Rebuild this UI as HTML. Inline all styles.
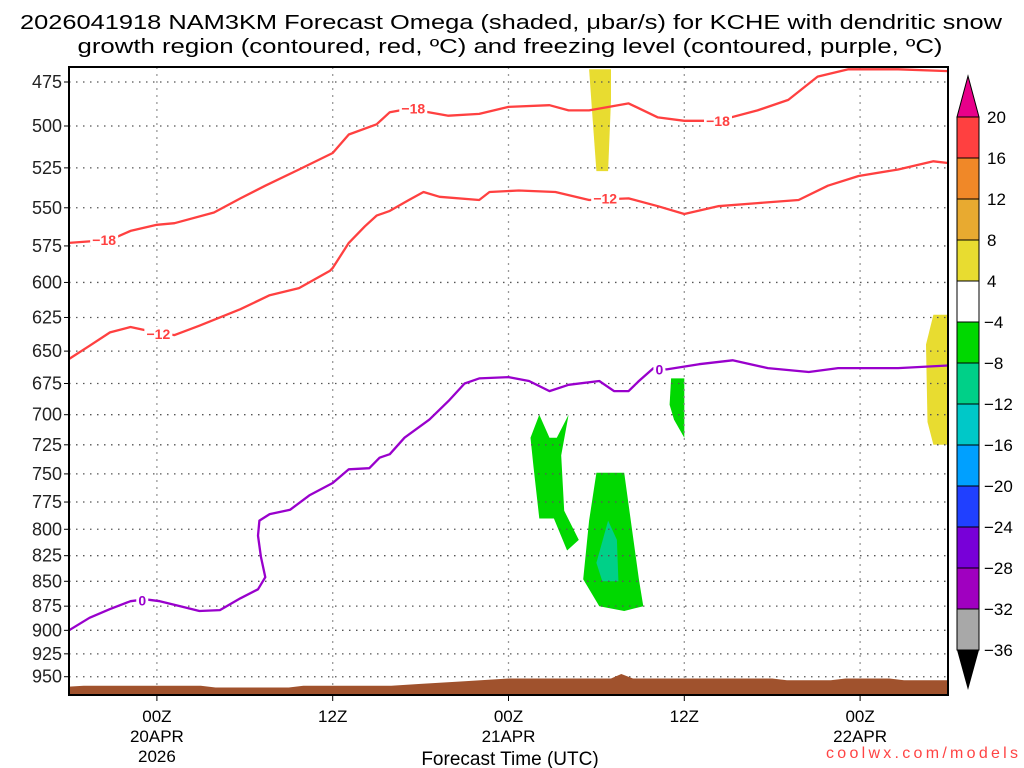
<!DOCTYPE html>
<html><head><meta charset="utf-8"><style>
html,body{margin:0;padding:0;background:#fff}
svg{display:block;font-family:"Liberation Sans",sans-serif}
</style></head><body>
<svg id="c" width="1024" height="768" viewBox="0 0 1024 768" xmlns="http://www.w3.org/2000/svg">
<text x="511" y="29" text-anchor="middle" font-size="20" textLength="982" lengthAdjust="spacingAndGlyphs">2026041918 NAM3KM Forecast Omega (shaded, μbar/s) for KCHE with dendritic snow</text>
<text x="510" y="53" text-anchor="middle" font-size="20" textLength="865" lengthAdjust="spacingAndGlyphs">growth region (contoured, red, ºC) and freezing level (contoured, purple, ºC)</text>
<text x="510" y="765" text-anchor="middle" font-size="19">Forecast Time (UTC)</text>
<text x="1018" y="758" text-anchor="end" font-size="16" fill="#ff4444" textLength="192" lengthAdjust="spacing">coolwx.com/models</text>
<g id="plot"></g>
</svg>
<script>
// ---- data (hours from 00Z 20APR, pressure hPa) ----
const yTicks=[475,500,525,550,575,600,625,650,675,700,725,750,775,800,825,850,875,900,925,950];
const xTickHours=[0,12,24,36,48];
const xTickLabels=[["00Z","20APR","2026"],["12Z"],["00Z","21APR"],["12Z"],["00Z","22APR"]];
const redUpperH=[-6,-3.2,-1.8,0,1.2,3.9,5.7,7.4,9.7,12,13.1,15,15.9,17.2,19.9,22,24,26.8,28.1,29.5,32.2,34.2,36,38.3,41,43.1,45.1,47.2,50.6,54];
const redUpperP=[573,571,565,561,560,553,544,536,526,516,505,499,492,490,494,493,489,488,491,491,487,495,497,497,491,485,472,468,468,469];
const redLowerH=[-6,-4.6,-3.2,-1.8,-0.5,1.2,2.9,5.7,7.7,9.7,11.8,12,13.1,14.2,15,15.9,17.2,18.2,19.3,22,22.7,24.7,27.2,29.5,32.2,34.2,36,38.3,41,43.8,45.8,47.9,50.6,53,54];
const redLowerP=[656,646,636,632,635,638,631,619,609,604,592,590,573,562,555,552,545,540,543,545,540,539,540,545,544,549,554,549,547,545,536,530,526,521,522];
const frzH=[-6,-4.6,-3.2,-1.8,-0.8,0.2,1.6,2.9,4.3,5.7,6.9,7.4,7.1,6.9,7.0,7.7,9.1,10.4,12,13.1,14.5,15.2,15.9,16.9,18.6,19.9,21,22,24,25.4,26.8,28.1,30.2,31.2,32.2,32.9,33.9,34.8,37,39.3,41.7,44.5,46.5,50.6,54];
const frzP=[900,887,878,870,868,870,875,880,879,867,858,846,826,806,792,786,782,769,758,746,745,736,733,719,704,689,675,671,670,673,681,676,673,681,681,673,663,664,660,657,663,666,663,663,661];
const terrH=[-6,-5,3,4,9,10,16,18,21,24,31,31.7,32.5,42,43,46,47,50,51,54];
const terrP=[961,960,960,962,962,960,960,958,955,952,952,947,952,952,954,954,952,952,954,954];
const yellowTopH=[29.5,31,31,30.8,30,29.7];
const yellowTopP=[468,468,485,527,527,491];
const yellowRightH=[53,54,54,53,52.6,52.5];
const yellowRightP=[623,623,725,725,706,645];
const green1H=[26.1,26.8,27.3,28.1,27.6,27.8,28.8,28,27.1,26.1,25.7,25.5];
const green1P=[700,719,719,700,734,783,810,820,790,790,743,719];
const green2H=[30,31.9,32.9,33.2,31.9,30.2,29.1,29.5];
const green2P=[749,749,848,875,880,875,848,792];
const tealH=[30.8,31.4,31.5,30.4,30];
const tealP=[792,810,850,850,832];
const green3H=[35.1,36,36,35.3,35];
const green3P=[671,671,719,704,692];
const cbLabels=["20","16","12","8","4","\u22124","\u22128","\u221212","\u221216","\u221220","\u221224","\u221228","\u221232","\u221236"];
const cbColors=["#ff4040","#f08828","#e8aa30","#e8dc30","#ffffff","#00d800","#00d088","#00c8c8","#00a0ff","#2040ff","#7800d8","#a000c0","#a8a8a8"];
// ---- axes ----
const X0=69,X1=948,Y0=67,Y1=695,H0=-6,H1=54;
const xs=h=>X0+(h-H0)*(X1-X0)/(H1-H0);
const ys=p=>82+858*Math.log(p/475);
const NS="http://www.w3.org/2000/svg";
const g=document.getElementById('plot');
function mk(t,a,parent){const e=document.createElementNS(NS,t);for(const k in a)e.setAttribute(k,a[k]);(parent||g).appendChild(e);return e;}
function pts(H,P){return H.map((h,i)=>xs(h).toFixed(1)+","+ys(P[i]).toFixed(1)).join(" ");}
const defs=mk('defs',{});const cp=mk('clipPath',{id:'pc'},defs);mk('rect',{x:X0,y:Y0,width:X1-X0,height:Y1-Y0},cp);
const pg=mk('g',{'clip-path':'url(#pc)'});


[[yellowTopH,yellowTopP,'#e8dc30','omega-yellow-top'],[yellowRightH,yellowRightP,'#e8dc30','omega-yellow-right'],[green1H,green1P,'#00d800','omega-green-1'],[green2H,green2P,'#00d800','omega-green-2'],[tealH,tealP,'#00d088','omega-teal'],[green3H,green3P,'#00d800','omega-green-3']].forEach(s=>{
 const e=mk('polygon',{points:pts(s[0],s[1]),fill:s[2]},pg);
 
 
});
yTicks.forEach(p=>{
 const l=mk('line',{x1:X0,x2:X1,y1:ys(p),y2:ys(p),stroke:'#555','stroke-dasharray':'1.5,5.5','stroke-width':1.3},pg);
 
 
 const t=mk('text',{x:62,y:ys(p)+6,'text-anchor':'end','font-size':18,fill:'#222'});
 t.textContent=p;
 
 
 mk('line',{x1:X0-5,x2:X0,y1:ys(p),y2:ys(p),stroke:'#000'});
});
xTickHours.forEach((h,i)=>{
 const l=mk('line',{x1:xs(h),x2:xs(h),y1:Y0,y2:Y1,stroke:'#999','stroke-dasharray':'2,5','stroke-width':1.3},pg);
 
 
 mk('line',{x1:xs(h),x2:xs(h),y1:Y1,y2:Y1+6,stroke:'#000'});
 xTickLabels[i].forEach((s,j)=>{
  const t=mk('text',{x:xs(h),y:722+j*20,'text-anchor':'middle','font-size':17});
  t.textContent=s;
  
  
 });
});
const tH=[H0].concat(terrH,[H1]),tP=[1000].concat(terrP,[1000]);
const terr=mk('polygon',{points:pts(tH,tP),fill:'#a0522d'},pg);


[[redUpperH,redUpperP,'#ff4040','contour-minus18'],[redLowerH,redLowerP,'#ff4040','contour-minus12'],[frzH,frzP,'#9900cc','freezing-level']].forEach(s=>{
 const e=mk('polyline',{points:pts(s[0],s[1]),fill:'none',stroke:s[2],'stroke-width':2.3,'stroke-linejoin':'round'},pg);
 
 
});
[[17.5,490,'−18','#ff4040'],[38.3,497,'−18','#ff4040'],[-3.6,571,'−18','#ff4040'],[0.1,637,'−12','#ff4040'],[30.6,544,'−12','#ff4040'],[-1,869,'0','#9900cc'],[34.3,664,'0','#9900cc']].forEach(s=>{
 const x=xs(s[0]),y=ys(s[1]),w=s[2].length*8+4;
 mk('rect',{x:x-w/2,y:y-7,width:w,height:14,fill:'#fff'},pg);
 const t=mk('text',{x:x,y:y+5,'text-anchor':'middle','font-size':14,'font-weight':'bold',fill:s[3]},pg);
 t.textContent=s[2];
 
 
});
const fr=mk('rect',{x:X0,y:Y0,width:X1-X0,height:Y1-Y0,fill:'none',stroke:'#000','stroke-width':2});


const cb=mk('g',{});


const CX=957,CW=22,CT=117,CH=41;
mk('polygon',{points:`${CX},${CT} ${CX+CW},${CT} ${CX+CW/2},76`,fill:'#e8008a',stroke:'#000'},cb);
cbColors.forEach((c,i)=>mk('rect',{x:CX,y:CT+i*CH,width:CW,height:CH,fill:c,stroke:'#000','stroke-width':1},cb));
const cbB=CT+cbColors.length*CH;
mk('polygon',{points:`${CX},${cbB} ${CX+CW},${cbB} ${CX+CW/2},690`,fill:'#000'},cb);
cbLabels.forEach((s,i)=>{
 const t=mk('text',{x:s.startsWith('\u2212')?984:987,y:CT+i*CH+6,'font-size':17},cb);
 t.textContent=s;
 
 
});
</script>
</body></html>
